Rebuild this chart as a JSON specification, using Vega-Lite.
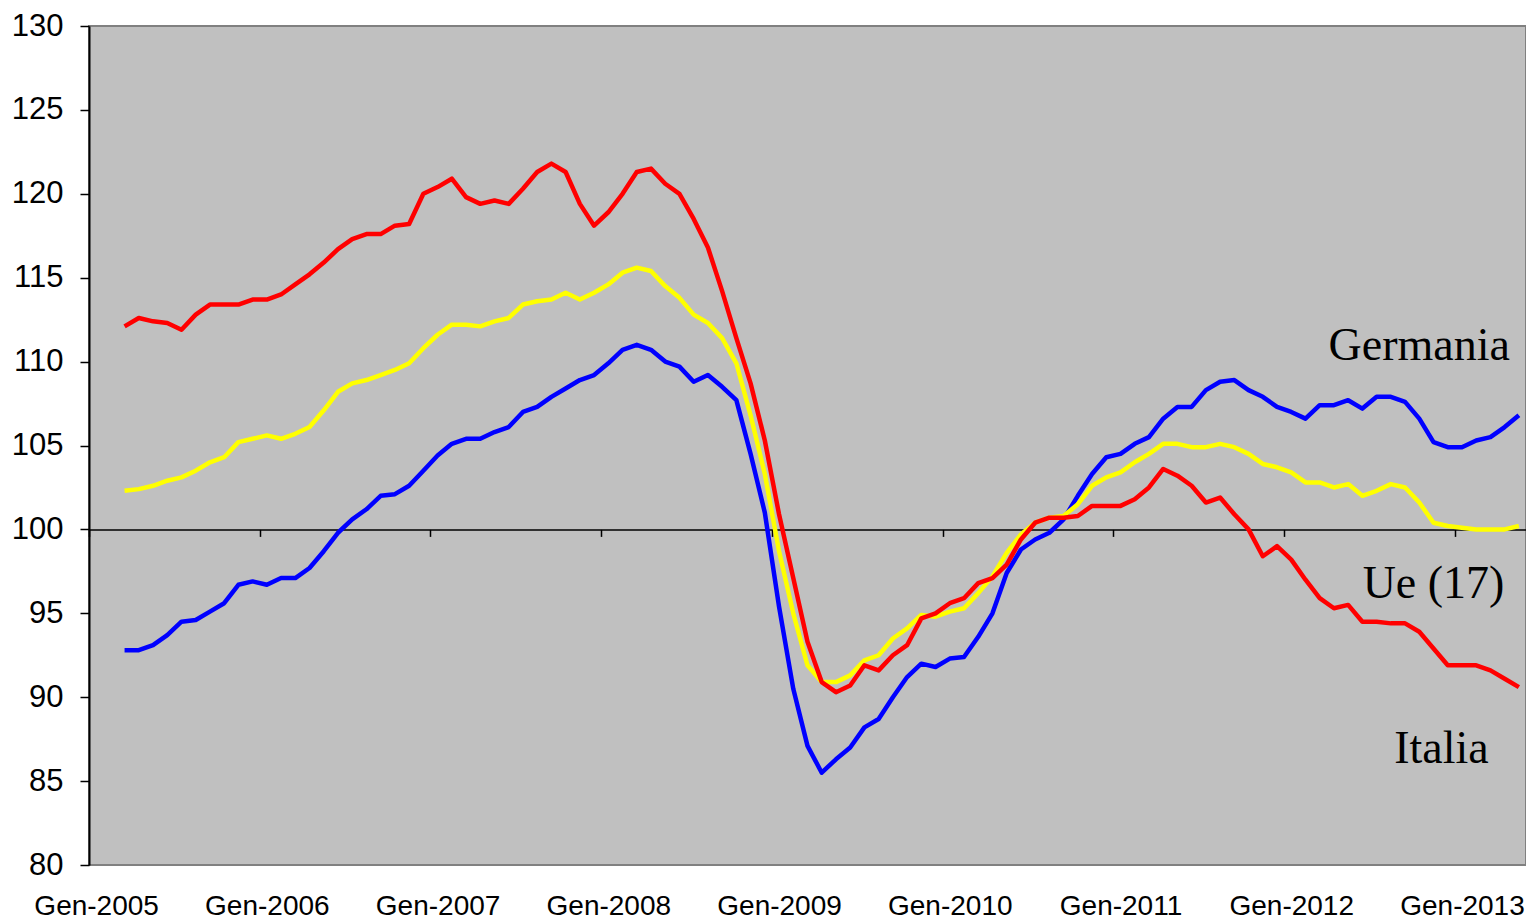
{
  "$schema": "https://vega.github.io/schema/vega-lite/v6.json",
  "width": 1437,
  "height": 839,
  "autosize": {"type": "none"},
  "padding": {"left": 89, "top": 26, "right": 0, "bottom": 52},
  "background": "white",
  "config": {"view": {"fill": "#C0C0C0", "stroke": "#808080", "strokeWidth": 2}},
  "encoding": {
    "x": {
      "field": "mese",
      "type": "ordinal",
      "scale": {
        "type": "point",
        "padding": 0.5,
        "domain": ["2005-01","2005-02","2005-03","2005-04","2005-05","2005-06","2005-07","2005-08","2005-09","2005-10","2005-11","2005-12",
                   "2006-01","2006-02","2006-03","2006-04","2006-05","2006-06","2006-07","2006-08","2006-09","2006-10","2006-11","2006-12",
                   "2007-01","2007-02","2007-03","2007-04","2007-05","2007-06","2007-07","2007-08","2007-09","2007-10","2007-11","2007-12",
                   "2008-01","2008-02","2008-03","2008-04","2008-05","2008-06","2008-07","2008-08","2008-09","2008-10","2008-11","2008-12",
                   "2009-01","2009-02","2009-03","2009-04","2009-05","2009-06","2009-07","2009-08","2009-09","2009-10","2009-11","2009-12",
                   "2010-01","2010-02","2010-03","2010-04","2010-05","2010-06","2010-07","2010-08","2010-09","2010-10","2010-11","2010-12",
                   "2011-01","2011-02","2011-03","2011-04","2011-05","2011-06","2011-07","2011-08","2011-09","2011-10","2011-11","2011-12",
                   "2012-01","2012-02","2012-03","2012-04","2012-05","2012-06","2012-07","2012-08","2012-09","2012-10","2012-11","2012-12",
                   "2013-01","2013-02","2013-03","2013-04","2013-05"]
      },
      "axis": {
        "values": ["2005-01","2006-01","2007-01","2008-01","2009-01","2010-01","2011-01","2012-01","2013-01"],
        "labelExpr": "'Gen-' + substring(datum.value, 0, 4)",
        "title": null,
        "labelAngle": 0,
        "grid": false,
        "offset": -335.6,
        "tickSize": 7,
        "tickOffset": -7.11,
        "labelOffset": 7.11,
        "labelPadding": 356,
        "labelOverlap": false,
        "labelFont": "Liberation Sans",
        "labelFontSize": 28,
        "labelColor": "black",
        "domainColor": "black",
        "tickColor": "black",
        "domainWidth": 1.5,
        "tickWidth": 1.5
      }
    },
    "y": {
      "field": "valore",
      "type": "quantitative",
      "scale": {"domain": [80, 130], "nice": false, "zero": false},
      "axis": {
        "values": [80, 85, 90, 95, 100, 105, 110, 115, 120, 125, 130],
        "title": null,
        "grid": false,
        "tickSize": 9,
        "labelPadding": 17,
        "labelFont": "Liberation Sans",
        "labelFontSize": 31,
        "labelColor": "black",
        "domainColor": "black",
        "tickColor": "black",
        "domainWidth": 2,
        "tickWidth": 1.5
      }
    }
  },
  "layer": [
    {
      "data": {
        "values": [
          {"mese": "2005-03", "Italia": 112.1, "Ue (17)": 102.3, "Germania": 92.8},
          {"mese": "2005-04", "Italia": 112.6, "Ue (17)": 102.4, "Germania": 92.8},
          {"mese": "2005-05", "Italia": 112.4, "Ue (17)": 102.6, "Germania": 93.1},
          {"mese": "2005-06", "Italia": 112.3, "Ue (17)": 102.9, "Germania": 93.7},
          {"mese": "2005-07", "Italia": 111.9, "Ue (17)": 103.1, "Germania": 94.5},
          {"mese": "2005-08", "Italia": 112.8, "Ue (17)": 103.5, "Germania": 94.6},
          {"mese": "2005-09", "Italia": 113.4, "Ue (17)": 104.0, "Germania": 95.1},
          {"mese": "2005-10", "Italia": 113.4, "Ue (17)": 104.3, "Germania": 95.6},
          {"mese": "2005-11", "Italia": 113.4, "Ue (17)": 105.2, "Germania": 96.7},
          {"mese": "2005-12", "Italia": 113.7, "Ue (17)": 105.4, "Germania": 96.9},
          {"mese": "2006-01", "Italia": 113.7, "Ue (17)": 105.6, "Germania": 96.7},
          {"mese": "2006-02", "Italia": 114.0, "Ue (17)": 105.4, "Germania": 97.1},
          {"mese": "2006-03", "Italia": 114.6, "Ue (17)": 105.7, "Germania": 97.1},
          {"mese": "2006-04", "Italia": 115.2, "Ue (17)": 106.1, "Germania": 97.7},
          {"mese": "2006-05", "Italia": 115.9, "Ue (17)": 107.1, "Germania": 98.7},
          {"mese": "2006-06", "Italia": 116.7, "Ue (17)": 108.2, "Germania": 99.8},
          {"mese": "2006-07", "Italia": 117.3, "Ue (17)": 108.7, "Germania": 100.6},
          {"mese": "2006-08", "Italia": 117.6, "Ue (17)": 108.9, "Germania": 101.2},
          {"mese": "2006-09", "Italia": 117.6, "Ue (17)": 109.2, "Germania": 102.0},
          {"mese": "2006-10", "Italia": 118.1, "Ue (17)": 109.5, "Germania": 102.1},
          {"mese": "2006-11", "Italia": 118.2, "Ue (17)": 109.9, "Germania": 102.6},
          {"mese": "2006-12", "Italia": 120.0, "Ue (17)": 110.8, "Germania": 103.5},
          {"mese": "2007-01", "Italia": 120.4, "Ue (17)": 111.6, "Germania": 104.4},
          {"mese": "2007-02", "Italia": 120.9, "Ue (17)": 112.2, "Germania": 105.1},
          {"mese": "2007-03", "Italia": 119.8, "Ue (17)": 112.2, "Germania": 105.4},
          {"mese": "2007-04", "Italia": 119.4, "Ue (17)": 112.1, "Germania": 105.4},
          {"mese": "2007-05", "Italia": 119.6, "Ue (17)": 112.4, "Germania": 105.8},
          {"mese": "2007-06", "Italia": 119.4, "Ue (17)": 112.6, "Germania": 106.1},
          {"mese": "2007-07", "Italia": 120.3, "Ue (17)": 113.4, "Germania": 107.0},
          {"mese": "2007-08", "Italia": 121.3, "Ue (17)": 113.6, "Germania": 107.3},
          {"mese": "2007-09", "Italia": 121.8, "Ue (17)": 113.7, "Germania": 107.9},
          {"mese": "2007-10", "Italia": 121.3, "Ue (17)": 114.1, "Germania": 108.4},
          {"mese": "2007-11", "Italia": 119.4, "Ue (17)": 113.7, "Germania": 108.9},
          {"mese": "2007-12", "Italia": 118.1, "Ue (17)": 114.1, "Germania": 109.2},
          {"mese": "2008-01", "Italia": 118.9, "Ue (17)": 114.6, "Germania": 109.9},
          {"mese": "2008-02", "Italia": 120.0, "Ue (17)": 115.3, "Germania": 110.7},
          {"mese": "2008-03", "Italia": 121.3, "Ue (17)": 115.6, "Germania": 111.0},
          {"mese": "2008-04", "Italia": 121.5, "Ue (17)": 115.4, "Germania": 110.7},
          {"mese": "2008-05", "Italia": 120.6, "Ue (17)": 114.5, "Germania": 110.0},
          {"mese": "2008-06", "Italia": 120.0, "Ue (17)": 113.8, "Germania": 109.7},
          {"mese": "2008-07", "Italia": 118.5, "Ue (17)": 112.8, "Germania": 108.8},
          {"mese": "2008-08", "Italia": 116.8, "Ue (17)": 112.3, "Germania": 109.2},
          {"mese": "2008-09", "Italia": 114.2, "Ue (17)": 111.4, "Germania": 108.5},
          {"mese": "2008-10", "Italia": 111.4, "Ue (17)": 109.9, "Germania": 107.7},
          {"mese": "2008-11", "Italia": 108.7, "Ue (17)": 106.8, "Germania": 104.5},
          {"mese": "2008-12", "Italia": 105.3, "Ue (17)": 103.3, "Germania": 101.0},
          {"mese": "2009-01", "Italia": 100.9, "Ue (17)": 98.7, "Germania": 95.4},
          {"mese": "2009-02", "Italia": 97.1, "Ue (17)": 95.0, "Germania": 90.5},
          {"mese": "2009-03", "Italia": 93.3, "Ue (17)": 91.9, "Germania": 87.1},
          {"mese": "2009-04", "Italia": 90.9, "Ue (17)": 90.9, "Germania": 85.5},
          {"mese": "2009-05", "Italia": 90.3, "Ue (17)": 90.9, "Germania": 86.3},
          {"mese": "2009-06", "Italia": 90.7, "Ue (17)": 91.3, "Germania": 87.0},
          {"mese": "2009-07", "Italia": 91.9, "Ue (17)": 92.2, "Germania": 88.2},
          {"mese": "2009-08", "Italia": 91.6, "Ue (17)": 92.5, "Germania": 88.7},
          {"mese": "2009-09", "Italia": 92.5, "Ue (17)": 93.5, "Germania": 90.0},
          {"mese": "2009-10", "Italia": 93.1, "Ue (17)": 94.1, "Germania": 91.2},
          {"mese": "2009-11", "Italia": 94.7, "Ue (17)": 94.9, "Germania": 92.0},
          {"mese": "2009-12", "Italia": 95.0, "Ue (17)": 94.8, "Germania": 91.8},
          {"mese": "2010-01", "Italia": 95.6, "Ue (17)": 95.1, "Germania": 92.3},
          {"mese": "2010-02", "Italia": 95.9, "Ue (17)": 95.3, "Germania": 92.4},
          {"mese": "2010-03", "Italia": 96.8, "Ue (17)": 96.2, "Germania": 93.6},
          {"mese": "2010-04", "Italia": 97.1, "Ue (17)": 97.2, "Germania": 95.0},
          {"mese": "2010-05", "Italia": 97.9, "Ue (17)": 98.6, "Germania": 97.4},
          {"mese": "2010-06", "Italia": 99.4, "Ue (17)": 99.7, "Germania": 98.8},
          {"mese": "2010-07", "Italia": 100.4, "Ue (17)": 100.4, "Germania": 99.4},
          {"mese": "2010-08", "Italia": 100.7, "Ue (17)": 100.7, "Germania": 99.8},
          {"mese": "2010-09", "Italia": 100.7, "Ue (17)": 100.8, "Germania": 100.6},
          {"mese": "2010-10", "Italia": 100.8, "Ue (17)": 101.5, "Germania": 102.0},
          {"mese": "2010-11", "Italia": 101.4, "Ue (17)": 102.6, "Germania": 103.3},
          {"mese": "2010-12", "Italia": 101.4, "Ue (17)": 103.1, "Germania": 104.3},
          {"mese": "2011-01", "Italia": 101.4, "Ue (17)": 103.4, "Germania": 104.5},
          {"mese": "2011-02", "Italia": 101.8, "Ue (17)": 104.0, "Germania": 105.1},
          {"mese": "2011-03", "Italia": 102.5, "Ue (17)": 104.5, "Germania": 105.5},
          {"mese": "2011-04", "Italia": 103.6, "Ue (17)": 105.1, "Germania": 106.6},
          {"mese": "2011-05", "Italia": 103.2, "Ue (17)": 105.1, "Germania": 107.3},
          {"mese": "2011-06", "Italia": 102.6, "Ue (17)": 104.9, "Germania": 107.3},
          {"mese": "2011-07", "Italia": 101.6, "Ue (17)": 104.9, "Germania": 108.3},
          {"mese": "2011-08", "Italia": 101.9, "Ue (17)": 105.1, "Germania": 108.8},
          {"mese": "2011-09", "Italia": 100.9, "Ue (17)": 104.9, "Germania": 108.9},
          {"mese": "2011-10", "Italia": 100.0, "Ue (17)": 104.5, "Germania": 108.3},
          {"mese": "2011-11", "Italia": 98.4, "Ue (17)": 103.9, "Germania": 107.9},
          {"mese": "2011-12", "Italia": 99.0, "Ue (17)": 103.7, "Germania": 107.3},
          {"mese": "2012-01", "Italia": 98.2, "Ue (17)": 103.4, "Germania": 107.0},
          {"mese": "2012-02", "Italia": 97.0, "Ue (17)": 102.8, "Germania": 106.6},
          {"mese": "2012-03", "Italia": 95.9, "Ue (17)": 102.8, "Germania": 107.4},
          {"mese": "2012-04", "Italia": 95.3, "Ue (17)": 102.5, "Germania": 107.4},
          {"mese": "2012-05", "Italia": 95.5, "Ue (17)": 102.7, "Germania": 107.7},
          {"mese": "2012-06", "Italia": 94.5, "Ue (17)": 102.0, "Germania": 107.2},
          {"mese": "2012-07", "Italia": 94.5, "Ue (17)": 102.3, "Germania": 107.9},
          {"mese": "2012-08", "Italia": 94.4, "Ue (17)": 102.7, "Germania": 107.9},
          {"mese": "2012-09", "Italia": 94.4, "Ue (17)": 102.5, "Germania": 107.6},
          {"mese": "2012-10", "Italia": 93.9, "Ue (17)": 101.6, "Germania": 106.6},
          {"mese": "2012-11", "Italia": 92.9, "Ue (17)": 100.4, "Germania": 105.2},
          {"mese": "2012-12", "Italia": 91.9, "Ue (17)": 100.2, "Germania": 104.9},
          {"mese": "2013-01", "Italia": 91.9, "Ue (17)": 100.1, "Germania": 104.9},
          {"mese": "2013-02", "Italia": 91.9, "Ue (17)": 100.0, "Germania": 105.3},
          {"mese": "2013-03", "Italia": 91.6, "Ue (17)": 100.0, "Germania": 105.5},
          {"mese": "2013-04", "Italia": 91.1, "Ue (17)": 100.0, "Germania": 106.1},
          {"mese": "2013-05", "Italia": 90.6, "Ue (17)": 100.2, "Germania": 106.8}
        ]
      },
      "transform": [{"fold": ["Germania", "Ue (17)", "Italia"], "as": ["paese", "valore"]}],
      "mark": {"type": "line", "strokeWidth": 4.5, "strokeJoin": "round"},
      "encoding": {
        "color": {
          "field": "paese",
          "type": "nominal",
          "scale": {"domain": ["Germania", "Ue (17)", "Italia"], "range": ["#0000FF", "#FFFF00", "#FF0000"]},
          "legend": null
        }
      }
    },
    {
      "data": {
        "values": [
          {"mese": "2012-10", "valore": 110.1, "testo": "Germania"},
          {"mese": "2012-11", "valore": 95.9, "testo": "Ue (17)"}
        ]
      },
      "mark": {"type": "text", "font": "Liberation Serif", "fontSize": 46, "color": "black", "align": "center", "baseline": "alphabetic"},
      "encoding": {"text": {"field": "testo"}}
    },
    {
      "data": {
        "values": [
          {"mese": "2012-11", "valore": 86.1, "testo": "Italia"}
        ]
      },
      "mark": {"type": "text", "font": "Liberation Serif", "fontSize": 46, "color": "black", "align": "center", "baseline": "alphabetic", "dx": 8},
      "encoding": {"text": {"field": "testo"}}
    }
  ]
}
